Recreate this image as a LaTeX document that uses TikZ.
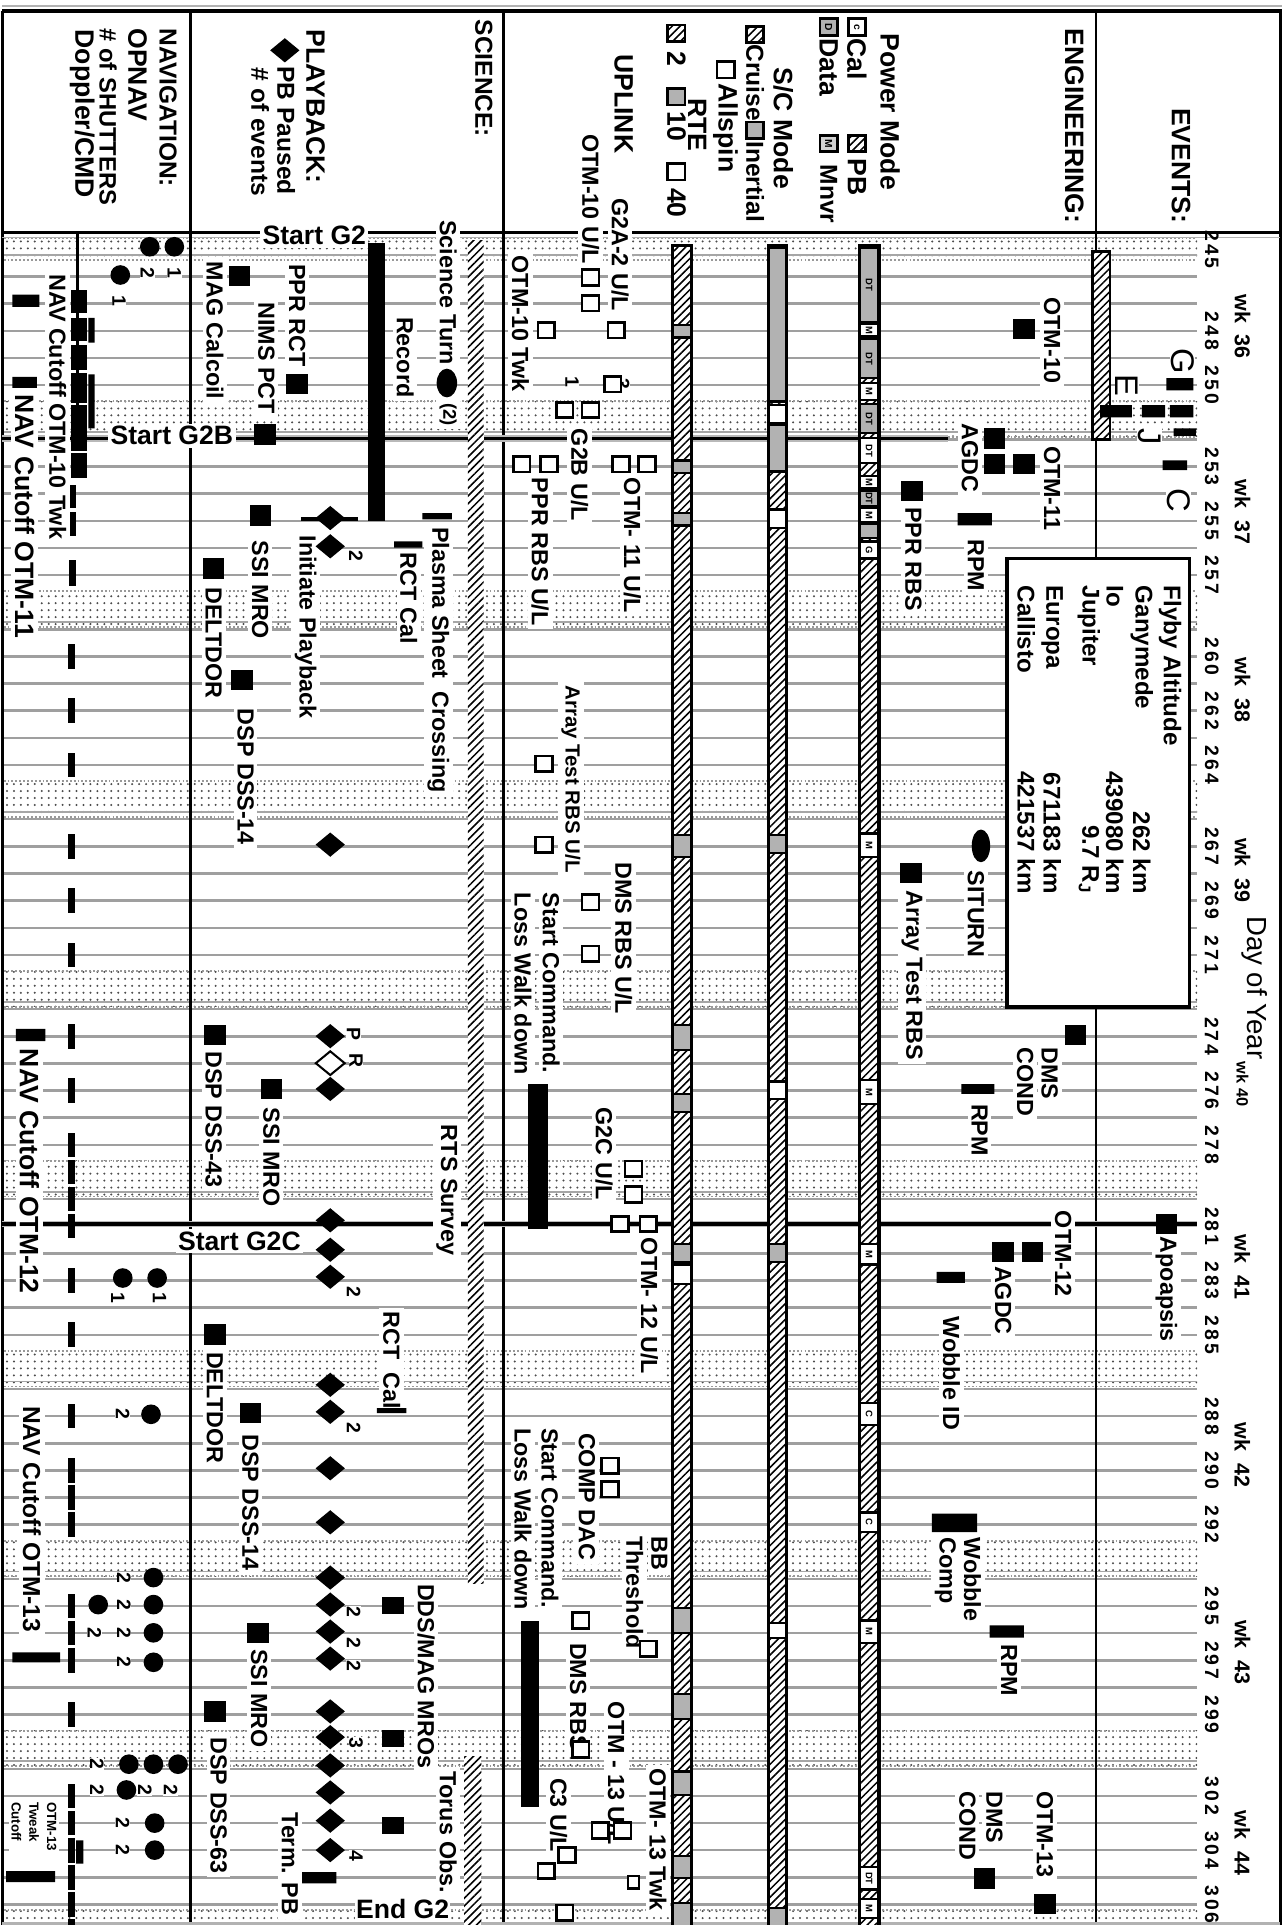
\documentclass[tikz,border=0pt]{standalone}
\usepackage{fontspec}
\setmainfont{Liberation Sans}
\usetikzlibrary{shapes.geometric,patterns,patterns.meta,calc}

\tikzset{
  lbl/.style={rotate=-90,anchor=west,inner sep=1.8pt,fill=white,font=\fontsize{11.4}{13}\selectfont\bfseries},
  lblsm/.style={lbl,font=\fontsize{10}{12}\selectfont\bfseries},
  lblbig/.style={lbl,font=\fontsize{13}{14}\selectfont\bfseries},
  hdr/.style={rotate=-90,anchor=west,inner sep=0.5pt,font=\fontsize{13}{14}\selectfont\bfseries},
  hdrsm/.style={hdr,font=\fontsize{12}{13}\selectfont\bfseries},
  boxt/.style={rotate=-90,inner sep=0.5pt,font=\fontsize{11.8}{13}\selectfont\bfseries},
  num/.style={rotate=-90,inner sep=0.3pt,fill=white,font=\fontsize{9.5}{10}\selectfont\bfseries},
  big/.style={rotate=-90,anchor=west,inner sep=0.5pt,fill=white,font=\fontsize{16}{16}\selectfont},
  hlbl/.style={inner sep=1.2pt,fill=white,font=\fontsize{13}{14}\selectfont\bfseries},
  daylbl/.style={rotate=-90,inner sep=0.5pt,font=\fontsize{9.5}{10}\selectfont\bfseries\addfontfeature{LetterSpace=15}},
  wklbl/.style={rotate=-90,inner sep=0.5pt,font=\fontsize{10.5}{11}\selectfont\bfseries},
  sq/.style={draw,line width=1.3pt,fill=white,minimum width=8.2pt,minimum height=7.6pt,inner sep=0pt},
  blk/.style={fill=black,minimum width=10.5pt,minimum height=10pt,inner sep=0pt},
  dia/.style={diamond,fill=black,minimum width=14.5pt,minimum height=12pt,inner sep=0pt},
  odia/.style={dia,fill=white,draw=black,line width=1pt},
  dot/.style={circle,fill=black,minimum size=9.6pt,inner sep=0pt},
  icon/.style={draw,line width=1.3pt,fill=white,minimum width=8pt,minimum height=8.5pt,inner sep=0pt,rotate=-90,font=\fontsize{5}{5}\selectfont\bfseries},
  cell/.style={rotate=-90,inner sep=0pt,font=\fontsize{4.6}{5}\selectfont\bfseries},
  grid/.style={gray!75,line width=1.2pt},
  cellg/.style={fill=gray!60,draw=black,line width=1.1pt},
  cellw/.style={fill=white,draw=black,line width=1.1pt},
  hatch/.style={pattern={Lines[angle=45,distance=2.7pt,line width=0.75pt]},pattern color=black},
  stip/.style={pattern={Dots[distance=3.4pt,radius=0.55pt]},pattern color=black!70}
}

\begin{document}
\begin{tikzpicture}[x=0.6pt,y=-0.6pt,declare function={dy(\d)=380+22.1*(\d-253);}]
\useasboundingbox (0,0) rectangle (1047,1568);

% day grid
\foreach \d in {246,...,306}
  \draw[grid] (3,{dy(\d)}) -- (975,{dy(\d)});

% weekend bands
\foreach \c in {244,251,258,265,272,279,286,293,300,307}{
  \pgfmathsetmacro\a{\c==244 ? 194 : (\c==307 ? 1556 : dy(\c)-9)}
  \pgfmathsetmacro\b{\c==244 ? 212 : (\c==307 ? 1572 : dy(\c)+20)}
  \fill[white] (3,\a) rectangle (975,\b);
  \fill[stip] (3,\a) rectangle (975,\b);
  \draw[gray!80,densely dotted,line width=0.9pt] (3,\a) -- (975,\a) (3,\b) -- (975,\b);
  \draw[gray!70,line width=0.9pt] (3,{\b-4}) -- (975,{\b-4});
}

% frame and column rules
\draw[gray!60,line width=0.8pt] (2,5) -- (1044,5);
\draw[line width=2pt] (2,9) -- (1044,9);
\draw[line width=1.8pt] (2,9) -- (2,1570) (1043,9) -- (1043,1570);
\draw[line width=1.7pt] (2,189.5) -- (1043,189.5);
\draw[gray!60,line width=0.9pt] (2,193.5) -- (1043,193.5);
\draw[line width=1.3pt] (155,9) -- (155,1570) (410,9) -- (410,1570);
\draw[line width=1.1pt] (893,9) -- (893,1570);
\draw[gray!60,line width=2pt] (2,1567) -- (1043,1567);

% phase lines
\draw[gray!55,line width=3.2pt] (2,357) -- (772,357);
\draw[line width=1.6pt] (2,357) -- (772,357);
\draw[gray!55,line width=3.2pt] (2,997) -- (975,997);
\draw[line width=1.6pt] (2,997) -- (975,997);

% RTE bar
\fill[white] (548,200) rectangle (563,1570);
\fill[hatch] (548,200) rectangle (563,1570);
\foreach \a/\b in {265/275,375/385,418/428,680/698,835/855,891/906,1013/1028,1310/1330,1380/1400,1443/1462,1512/1530,1550/1570}
  \filldraw[cellg] (548,\a) rectangle (563,\b);
\filldraw[cellw] (548,1030) rectangle (563,1046);
\draw[line width=1.5pt] (548,200) rectangle (563,1570);

% S/C mode bar
\fill[white] (626,200) rectangle (641,1570);
\fill[hatch] (626,200) rectangle (641,1570);
\foreach \a/\b in {202/327,346/384,680/695,1013/1028,1554/1570}
  \filldraw[cellg] (626,\a) rectangle (641,\b);
\foreach \a/\b in {330/345,415/430,881/895,1322/1334}
  \filldraw[cellw] (626,\a) rectangle (641,\b);
\draw[line width=1.5pt] (626,200) rectangle (641,1570);

% power mode bar
\fill[white] (700,200) rectangle (716,1570);
\fill[hatch] (700,200) rectangle (716,1570);
\foreach \a/\b/\t [count=\i] in {202/262/DT,276/308/DT,329/353/DT,400/412/DT,427/438/{}}{
  \filldraw[cellg] (700,\a) rectangle (716,\b);
  \node[cell] (pg\i) at (708,{\a+(\b-\a)/2}) {\t};
}
\foreach \a/\b/\t [count=\i] in {264/274/M,312/326/M,357/377/DT,388/398/M,414/425/M,441/455/G,679/698/M,880/899/M,
    1013/1030/M,1143/1161/C,1232/1248/C,1320/1338/M,1521/1539/DT,1547/1562/M}{
  \filldraw[cellw] (700,\a) rectangle (716,\b);
  \node[cell] (pw\i) at (708,{\a+(\b-\a)/2}) {\t};
}
\draw[line width=1.5pt] (700,200) rectangle (716,1570);

% science and event bars
\fill[white] (381,196) rectangle (394,1290);
\fill[hatch] (381,196) rectangle (394,1290);
\fill[white] (378,1431) rectangle (392,1570);
\fill[hatch] (378,1431) rectangle (392,1570);
\filldraw[fill=white,line width=1.2pt] (890,205) rectangle (904,358);
\fill[hatch] (890,205) rectangle (904,358);
\fill (300,198) rectangle (314,424);
\fill (430,883) rectangle (446,1001);
\fill (424,1320) rectangle (439,1472);

% Doppler/CMD track
\draw[line width=1.5pt] (63,190) -- (63,367);
\foreach \a/\b in {236/255,259/278,281/301,304/328,330/367,369/389}
  \fill (58,\a) rectangle (71,\b);
\fill (72,259) rectangle (77,279) (72,305) rectangle (77,349);
\foreach \a/\b in {395/414,417/437,456/477}
  \fill (56,\a) rectangle (62,\b);
\foreach \d in {260,262,264,267,269,271,274,276,278,279,280,281,283,285,288,290,291,292,295,296,297,299,302,303,304,305,306,307}
  \fill (55,{dy(\d)-10}) rectangle (61,{dy(\d)+10});

% header
\node[hdrsm] (hnav) at (137,22) {NAVIGATION:};
\node[hdr] (hopn) at (112,22) {OPNAV};
\node[hdr,font=\fontsize{11.6}{13}\selectfont\bfseries] (hshu) at (88,22) {\# of SHUTTERS};
\node[hdr] (hdop) at (67,23) {Doppler/CMD};
\node[hdr] (hpb) at (257,23) {PLAYBACK:};
\node[dia] (hpbd) at (232,41) {};
\node[hdrsm] (hpbp) at (233,53) {PB Paused};
\node[hdrsm] (hpbe) at (212,54) {\# of events};
\node[hdrsm] (hsci) at (394,15) {SCIENCE:};
\node[hdr] (hpow) at (725,26) {Power Mode};
\node[icon] (icc) at (698,22) {c};
\node[hdr] (hcal) at (698,30) {Cal};
\node[icon,hatch] (icpb) at (698,117) {};
\node[hdr] (hpbm) at (698,128) {PB};
\node[icon,fill=gray!60] (icd) at (675,22) {D};
\node[hdr] (hdat) at (675,30) {Data};
\node[icon,fill=gray!35] (icm) at (675,117) {M};
\node[hdrsm] (hmnv) at (675,133) {Mnvr};
\node[hdr] (hscm) at (638,54) {S/C Mode};
\node[icon,hatch] (iccr) at (615,28) {};
\node[hdrsm] (hcru) at (615,35) {Cruise};
\node[icon,fill=gray!60] (icin) at (615,106) {};
\node[hdrsm] (hine) at (615,114) {Inertial};
\node[icon] (ical) at (591,57) {};
\node[hdr] (hall) at (591,67) {Allspin};
\node[hdr] (hrte) at (568,79) {RTE};
\node[icon,hatch] (ic2) at (551,27) {};
\node[hdr] (h2) at (551,41) {2};
\node[icon,fill=gray!60] (ic10) at (551,79) {};
\node[hdr] (h10) at (551,90) {10};
\node[icon] (ic40) at (551,140) {};
\node[hdr] (h40) at (551,152) {40};
\node[hdr] (hupl) at (508,43) {UPLINK};
\node[hdr] (heng) at (875,22) {ENGINEERING:};
\node[hdr] (hevt) at (962,87) {EVENTS:};

% phase labels
\node[hlbl] (sg2) at (256,192) {Start G2};
\node[hlbl] (sg2b) at (140,355) {Start G2B};
\node[hlbl] (sg2c) at (195,1011) {Start G2C};
\node[hlbl,inner sep=0.5pt] (eg2) at (328,1555) {End G2};

% navigation
\node[lbl] (nc10) at (47,220) {NAV Cutoff OTM-10 Twk};
\node[lblbig] (nc11) at (20,318) {NAV Cutoff OTM-11};
\node[lblbig] (nc12) at (24,851) {NAV Cutoff OTM-12};
\node[lbl,font=\fontsize{12}{13}\selectfont\bfseries] (nc13) at (26,1142) {NAV Cutoff OTM-13};
\node[rotate=-90,anchor=north west,align=left,inner sep=1pt,fill=white,font=\fontsize{6.5}{8.7}\selectfont\bfseries] (nctw) at (48,1466) {OTM-13\\Tweak\\Cutoff};
\fill (10,240) rectangle (32,250) (10,307) rectangle (30,316) (13,838) rectangle (37,848)
      (10,1346) rectangle (49,1354) (5,1524) rectangle (45,1533) (62,1499) rectangle (68,1518);

% playback and science
\node[lbl] (pprc) at (242,212) {PPR RCT};
\node[lbl] (nims) at (217,243) {NIMS PCT};
\node[lbl] (magc) at (175,210) {MAG Calcoil};
\node[lbl] (ssi1) at (212,437) {SSI MRO};
\node[lbl] (del1) at (174,475) {DELTDOR};
\node[lbl] (dsp1) at (200,574) {DSP DSS-14};
\node[lbl] (inpb) at (249,433) {Initiate Playback};
\node[lbl] (plas) at (357,426) {Plasma Sheet~ Crossing};
\node[lbl] (rct1) at (333,447) {RCT Cal};
\node[lbl] (sctn) at (365,176) {Science Turn};
\node[lbl,font=\fontsize{9}{10}\selectfont\bfseries] (sct2) at (365,325) {(2)};
\node[lbl] (recd) at (330,255) {Record};
\node[lbl] (dsp2) at (174,853) {DSP DSS-43};
\node[lbl] (ssi2) at (221,899) {SSI MRO};
\node[lbl] (rtss) at (364,913) {RTS Survey};
\node[lbl] (rct2) at (319,1065) {RCT~ Cal};
\node[lbl] (del2) at (175,1098) {DELTDOR};
\node[lbl] (dsp3) at (204,1165) {DSP DSS-14};
\node[lbl] (ddsm) at (347,1287) {DDS/MAG MROs};
\node[lbl] (ssi3) at (211,1340) {SSI MRO};
\node[lbl] (dsp4) at (178,1412) {DSP DSS-63};
\node[lbl] (toru) at (365,1440) {Torus Obs.};
\node[lbl] (trpb) at (236,1473) {Term. PB};

% uplink
\node[lbl] (ug2a) at (505,158) {G2A-2 U/L};
\node[lbl] (uo10) at (481,106) {OTM-10 U/L};
\node[lbl] (ut10) at (424,205) {OTM-10 Twk};
\node[lbl] (ug2b) at (472,346) {G2B U/L};
\node[lbl] (uppr) at (440,386) {PPR RBS U/L};
\node[lbl] (uo11) at (515,386) {OTM- 11 U/L};
\node[lblsm] (uart) at (465,555) {Array Test RBS U/L};
\node[lbl] (udms) at (508,699) {DMS RBS U/L};
\node[lbl] (usc1) at (449,724) {Start Command.};
\node[lbl] (ulw1) at (426,724) {Loss Walk down};
\node[lbl] (ug2c) at (492,899) {G2C U/L};
\node[lbl] (uo12) at (529,1005) {OTM- 12 U/L};
\node[lbl] (ucmp) at (478,1164) {COMP DAC};
\node[lbl] (usc2) at (448,1160) {Start Command.};
\node[lbl] (ulw2) at (426,1160) {Loss Walk down};
\node[lbl] (ubb) at (537,1248) {BB};
\node[lbl] (uthr) at (517,1248) {Threshold};
\node[lbl] (udm2) at (471,1335) {DMS RBS};
\node[lbl] (uo13) at (502,1383) {OTM - 13 U/L};
\node[lbl] (uc3) at (455,1445) {C3 U/L};
\node[lbl] (ut13) at (536,1437) {OTM- 13 Twk};

% engineering
\node[lbl] (eo10) at (857,239) {OTM-10};
\node[lbl] (eag1) at (790,342) {AGDC};
\node[lbl] (eo11) at (857,360) {OTM-11};
\node[lbl] (eppr) at (744,410) {PPR RBS};
\node[lbl] (erp1) at (795,436) {RPM};
\node[lbl] (esit) at (795,706) {SITURN};
\node[lbl] (eart) at (743,722) {Array Test RBS};
\node[lbl] (edm1) at (855,850) {DMS};
\node[lbl] (eco1) at (835,850) {COND};
\node[lbl] (erp2) at (798,896) {RPM};
\node[lbl] (eo12) at (866,983) {OTM-12};
\node[lbl] (eag2) at (817,1028) {AGDC};
\node[lbl] (ewid) at (775,1069) {Wobble ID};
\node[lbl] (ewob) at (792,1249) {Wobble};
\node[lbl] (ecmp) at (770,1249) {Comp};
\node[lbl] (erp3) at (822,1336) {RPM};
\node[lbl] (edm2) at (810,1456) {DMS};
\node[lbl] (eco2) at (788,1456) {COND};
\node[lbl] (eo13) at (851,1456) {OTM-13};

% events
\node[lbl] (apo) at (950,1004) {Apoapsis};
\node[big] (evg) at (963,283) {G};
\node[big] (eve) at (918,304) {E};
\node[big] (evj) at (936,348) {J};
\node[big] (evc) at (960,397) {C};
\fill (950,308) rectangle (972,318) (896,330) rectangle (922,340) (930,330) rectangle (949,340)
      (953,330) rectangle (972,340) (956,349) rectangle (974,355) (947,375) rectangle (967,383);

% flyby box
\filldraw[fill=white,line width=1.8pt] (820,455) rectangle (969,820);
\foreach \x/\n/\v [count=\i] in {953/Flyby Altitude/{},930/Ganymede/262 km,908/Io/439080 km,
    887/Jupiter/9.7 R\textsubscript{J},857/Europa/671183 km,836/Callisto/421537 km}{
  \node[boxt,anchor=west] (fn\i) at (\x,476) {\n};
  \node[boxt,anchor=east] (fv\i) at (\x,729) {\v};
}

% day axis
\foreach \d in {245,248,250,253,255,257,260,262,264,267,269,271,274,276,278,281,283,285,288,290,292,295,297,299,302,304,306}
  \node[daylbl] (day\d) at (987,{dy(\d)}) {\d};
\foreach \w/\y in {36/266,37/417,38/562,39/709,41/1032,42/1185,43/1346,44/1501}
  \node[wklbl] (wk\w) at (1012,\y) {wk~ \w};
\node[wklbl,font=\fontsize{8}{8}\selectfont\bfseries] (wk40) at (1012,883) {wk 40};
\node[rotate=-90,anchor=west,inner sep=0.5pt,font=\fontsize{13.5}{14}\selectfont] (doy) at (1022,745) {Day of Year};

% bars and ticks
\fill (344,418) rectangle (368,423) (321,441) rectangle (344,446) (307,1147) rectangle (331,1151)
      (246,1525) rectangle (274,1534) (780,418) rectangle (808,428) (783,883) rectangle (810,891)
      (763,1036) rectangle (786,1045) (759,1233) rectangle (796,1248) (806,1324) rectangle (834,1334);
\foreach \y in {1308,1416,1487}
  \fill (311,{\y-7}) rectangle (329,{\y+7});

% black squares
\foreach \x/\y [count=\i] in {242/313,216/354,195/225,212/420,174/463,197/554,175/843,221/887,175/1087,204/1151,210/1330,175/1394,
    834/268,810/357,810/378,834/378,743/400,742/711,876/843,817/1020,841/1020,950/997,802/1530,851/1551}
  \node[blk] (b\i) at (\x,\y) {};

% open squares (uplink)
\foreach \x/\y [count=\i] in {481/226,481/247,445/269,502/269,460/334,481/334,425/378,447/378,506/378,527/378,
    443/622,443/688,481/735,481/777,516/952,516/973,505/997,528/997,497/1194,497/1213,473/1320,528/1343,
    473/1425,489/1491,507/1491,462/1511,445/1524,460/1558}
  \node[sq] (s\i) at (\x,\y) {};
\node[num] (n3) at (507,313) {3};
\node[sq] (s3b) at (499,313) {};
\node[num] (n1) at (466,311) {1};
\node[sq,minimum width=5.5pt,minimum height=6pt] (sbr) at (516,1533) {};

% playback events
\draw[line width=1.8pt] (245,423) -- (292,423);
\foreach \y [count=\i] in {422,445,688,844,887,994,1018,1040,1128,1150,1196,1240,1285,1307,1329,1351,1394,1415,1438,1460,1483,1507}
  \node[dia] (d\i) at (269,\y) {};
\node[odia] (dr) at (269,866) {};
\foreach \x/\y/\t [count=\i] in {290/453/2,288/1052/2,288/1163/2,288/1313/2,288/1338/2,288/1357/2,290/1420/3,290/1512/4,288/842/P,290/864/R}
  \node[num] (pn\i) at (\x,\y) {\t};
\node[ellipse,fill=black,minimum width=10pt,minimum height=14pt,inner sep=0pt] (stn) at (364,312) {};
\node[ellipse,fill=black,minimum width=9pt,minimum height=16pt,inner sep=0pt] (sitn) at (799,689) {};

% OPNAV shutters
\foreach \x/\y [count=\i] in {122/201,142/201,98/224,100/1041,128/1041,123/1152,125/1285,125/1307,125/1330,125/1354,80/1307,
    145/1437,125/1437,105/1437,103/1458,126/1485,126/1507}
  \node[dot] (o\i) at (\x,\y) {};
\foreach \x/\y/\t [count=\i] in {120/222/2,142/222/1,97/245/1,96/1057/1,130/1057/1,100/1152/2,101/1285/2,101/1307/2,101/1330/2,
    101/1354/2,77/1330/2,79/1437/2,139/1458/2,118/1458/2,79/1458/2,100/1485/2,100/1507/2}
  \node[num] (on\i) at (\x,\y) {\t};
\end{tikzpicture}
\end{document}
